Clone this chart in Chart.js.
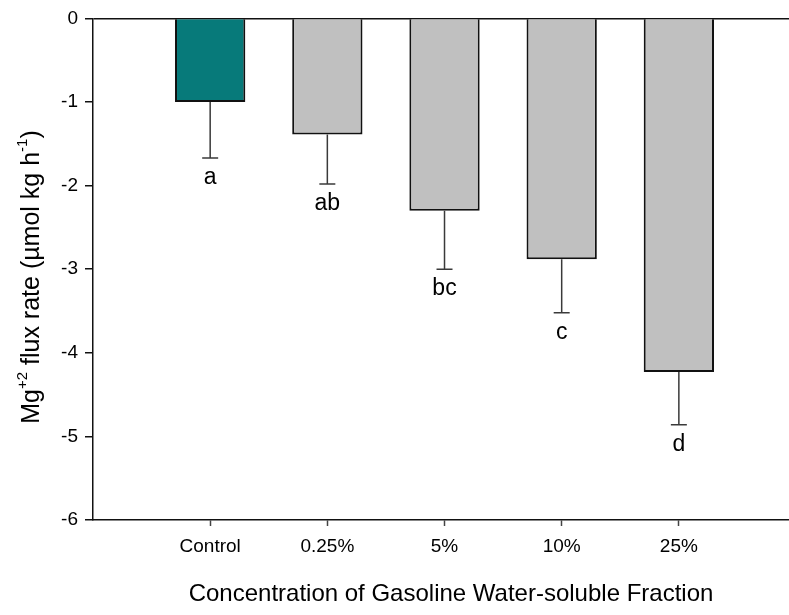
<!DOCTYPE html>
<html>
<head>
<meta charset="utf-8">
<script src="https://cdn.jsdelivr.net/npm/chart.js@4"></script>
<style>
  html, body { margin: 0; padding: 0; background: #fff; overflow: hidden; }
  #wrap { width: 789px; height: 615px; }
</style>
</head>
<body>
<div id="wrap"><canvas id="fluxChart" width="789" height="615"></canvas></div>
<script>
// Mg+2 flux by gasoline WSF concentration

const categories = ['Control', '0.25%', '5%', '10%', '25%'];
const fluxMeans = [-1.0, -1.39, -2.30, -2.88, -4.23];
const fluxErrors = [0.67, 0.59, 0.70, 0.64, 0.63];   // drawn downward only
const groupLetters = ['a', 'ab', 'bc', 'c', 'd'];
const barColors = ['#077a7a', '#c0c0c0', '#c0c0c0', '#c0c0c0', '#c0c0c0'];
const yTicks = [0, -1, -2, -3, -4, -5, -6];

const FONT = "'Liberation Sans', Arial, sans-serif";

// error bars + significance letters
const errorBarPlugin = {
    id: 'errorBars',
    afterDatasetsDraw(chart) {
        const ctx = chart.ctx;
        const xs = chart.scales.x;
        const ys = chart.scales.y;
        ctx.save();
        fluxMeans.forEach((m, i) => {
            const x = xs.getPixelForValue(i + 1);
            const y0 = ys.getPixelForValue(m);
            const y1 = ys.getPixelForValue(m - fluxErrors[i]);
            ctx.strokeStyle = '#3a3a3a';
            ctx.lineWidth = 1.5;
            ctx.beginPath();
            ctx.moveTo(x, y0);
            ctx.lineTo(x, y1);
            ctx.moveTo(x - 8, y1);
            ctx.lineTo(x + 8, y1);
            ctx.stroke();

            ctx.fillStyle = '#000';
            ctx.font = '23px ' + FONT;
            ctx.textAlign = 'center';
            ctx.textBaseline = 'alphabetic';
            ctx.fillText(groupLetters[i], x, y1 + 26);
        });
        ctx.restore();
    }
};

// axis titles (with superscripts)
const titlePlugin = {
    id: 'axisTitles',
    afterDraw(chart) {
        const ctx = chart.ctx;
        ctx.save();
        ctx.fillStyle = '#000';

        // x title
        ctx.font = '24px ' + FONT;
        ctx.textAlign = 'center';
        ctx.textBaseline = 'alphabetic';
        ctx.fillText('Concentration of Gasoline Water-soluble Fraction', 451, 601);

        // y title, rotated
        const parts = [
            { t: 'Mg', sup: false },
            { t: '+2', sup: true },
            { t: ' flux rate (\u00b5mol kg h', sup: false },
            { t: '-1', sup: true },
            { t: ')', sup: false }
        ];
        const bigFont = '25px ' + FONT;
        const smallFont = '15px ' + FONT;
        let total = 0;
        parts.forEach(p => {
            ctx.font = p.sup ? smallFont : bigFont;
            total += ctx.measureText(p.t).width;
        });
        ctx.translate(39, 277);
        ctx.rotate(-Math.PI / 2);
        ctx.textAlign = 'left';
        let cx = -total / 2;
        parts.forEach(p => {
            ctx.font = p.sup ? smallFont : bigFont;
            ctx.fillText(p.t, cx, p.sup ? -12 : 0);
            cx += ctx.measureText(p.t).width;
        });
        ctx.restore();
    }
};

const ctx = document.getElementById('fluxChart').getContext('2d');

new Chart(ctx, {
    type: 'bar',
    data: {
        datasets: [{
            data: fluxMeans.map((v, i) => ({ x: i + 1, y: v })),
            backgroundColor: barColors,
            borderColor: '#111',
            borderWidth: 2,
            categoryPercentage: 1,
            barPercentage: 0.6
        }]
    },
    options: {
        responsive: false,
        animation: false,
        layout: { padding: { top: 15, right: 0, left: 0, bottom: 0 } },
        plugins: {
            legend: { display: false },
            tooltip: { enabled: false }
        },
        scales: {
            x: {
                type: 'linear',
                min: 0,
                max: 5.94,
                offset: false,
                afterBuildTicks: scale => {
                    scale.ticks = categories.map((c, i) => ({ value: i + 1 }));
                },
                afterFit: scale => { scale.height = 95; },
                ticks: {
                    color: '#000',
                    font: { family: FONT, size: 19 },
                    padding: 9,
                    maxRotation: 0,
                    callback: v => categories[v - 1]
                },
                grid: {
                    offset: false,
                    drawOnChartArea: false,
                    drawTicks: true,
                    tickLength: 6,
                    tickColor: '#444',
                    tickWidth: 1.5
                },
                border: { display: true, color: '#111', width: 1.5 }
            },
            y: {
                min: -6,
                max: 0,
                afterBuildTicks: scale => {
                    scale.ticks = yTicks.map(v => ({ value: v }));
                },
                afterFit: scale => { scale.width = 93; },
                ticks: {
                    color: '#000',
                    font: { family: FONT, size: 19 },
                    padding: 7
                },
                grid: {
                    color: c => (c.tick && c.tick.value === 0 ? '#111' : 'rgba(0,0,0,0)'),
                    lineWidth: 1.5,
                    drawTicks: true,
                    tickLength: 8,
                    tickColor: '#111',
                    tickWidth: 1.5
                },
                border: { display: true, color: '#111', width: 1.5 }
            }
        }
    },
    plugins: [errorBarPlugin, titlePlugin]
});
</script>
</body>
</html>
